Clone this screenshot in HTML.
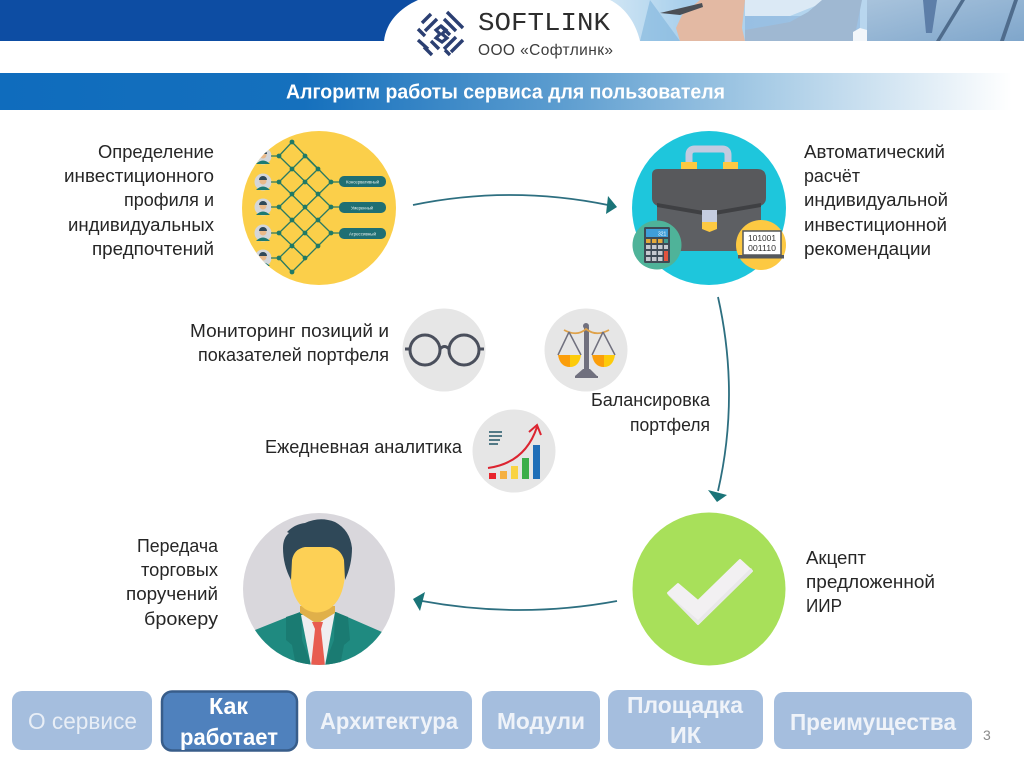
<!DOCTYPE html>
<html lang="ru">
<head>
<meta charset="utf-8">
<title>Алгоритм работы сервиса для пользователя</title>
<style>
html,body{margin:0;padding:0;background:#fff;width:1024px;height:767px;overflow:hidden}
svg{display:block}
text{font-family:"Liberation Sans","Noto Sans CJK SC",sans-serif}
.t{font-size:18.5px;fill:#262626}
.b{font-size:23px;font-weight:bold;fill:#eff3f9}
</style>
</head>
<body>
<svg width="1024" height="767" viewBox="0 0 1024 767" xmlns="http://www.w3.org/2000/svg">
<defs>
<linearGradient id="bar" x1="0" x2="1" y1="0" y2="0">
<stop offset="0" stop-color="#0f6cbd"/><stop offset=".3" stop-color="#1570bd"/>
<stop offset=".55" stop-color="#5b9ccf"/><stop offset=".75" stop-color="#a5cae5"/>
<stop offset="1" stop-color="#ffffff"/>
</linearGradient>
<linearGradient id="photo" x1="0" x2="1" y1="0" y2="0">
<stop offset="0" stop-color="#d5e8f5"/><stop offset=".2" stop-color="#a9d0ec"/><stop offset="1" stop-color="#c5dcf0"/>
</linearGradient>
<linearGradient id="suit" x1="0" x2="1" y1="0" y2="1">
<stop offset="0" stop-color="#a8c3dc"/><stop offset="1" stop-color="#7fa6cb"/>
</linearGradient>
<clipPath id="c1"><circle cx="319" cy="208" r="77"/></clipPath>
<clipPath id="c3"><circle cx="319" cy="589" r="76"/></clipPath>
<clipPath id="hdr"><rect x="0" y="0" width="1024" height="41"/></clipPath>
</defs>

<!-- header -->
<rect x="0" y="0" width="1024" height="41" fill="#0d4da3"/>
<g clip-path="url(#hdr)">
<rect x="600" y="0" width="424" height="41" fill="url(#photo)"/>
<path d="M650 0L680 41H640Z" fill="#7fb4dc" opacity=".6"/>
<path d="M745 0H830L790 16H745Z" fill="#dbe9f5"/>
<path d="M745 16H800L860 0V41H745Z" fill="#6f9fd0" opacity=".35"/>
<path d="M745 30L790 22L808 12L822 0H862L856 30L853 41H745Z" fill="#9fb8d2"/>
<path d="M700 0H745L742 28L745 41H680L676 28L682 15Z" fill="#e3b9a3"/>
<path d="M660 13L702 3L703 7L680 15Z" fill="#4b4f55"/>
<path d="M853 32L860 28L867 30V41H853Z" fill="#f2f6fa"/>
<path d="M867 0H1024V41H867Z" fill="url(#suit)"/>
<path d="M923 0H937L932 33L926 33Z" fill="#5d7ea8"/>
<path d="M965 0L940 41H936L961 0Z" fill="#4f6c8c"/>
<path d="M1018 0L1004 41H1000L1014 0Z" fill="#4f6c8c"/>
</g>
<path d="M384 41C386 22 400 8 418 0H610C626 8 636 24 640 41V60H384Z" fill="#fff"/>

<!-- logo -->
<g stroke="#2b3f72" stroke-width="3.4" fill="none">
<path d="M431 14L422 23M437 19L425 31M418 29L425 36M418 40L428 49M424 47L432 55M431 41L439 49"/>
<path d="M447 12L463 28M444 19L456 31M441 26L450 35M463 40L451 52M456 37L444 49M450 55L445 50"/>
<path d="M436 30L441 26L446 30L442 34L447 38L442 42L436 38L440 34Z" stroke-width="3.2"/>
</g>
<text x="478" y="30" font-size="26" textLength="132" lengthAdjust="spacingAndGlyphs" fill="#2d2d2d" style="font-family:'Liberation Mono',monospace">SOFTLINK</text>
<text x="478" y="55" font-size="15.5" textLength="135" lengthAdjust="spacing" fill="#3c3c3c">ООО «Софтлинк»</text>

<!-- title bar -->
<rect x="0" y="73" width="1012" height="37" fill="url(#bar)"/>
<text x="286" y="98.500" font-size="20" font-weight="bold" fill="#fff" textLength="439" lengthAdjust="spacingAndGlyphs">Алгоритм работы сервиса для пользователя</text>

<!-- circle 1: neural net -->
<circle cx="319" cy="208" r="77" fill="#fbcf4a"/>
<g clip-path="url(#c1)">
<g fill="#d3d6da">
<circle cx="263" cy="156" r="8.500"/><circle cx="263" cy="182" r="8.500"/><circle cx="263" cy="207" r="8.500"/><circle cx="263" cy="233" r="8.500"/><circle cx="263" cy="258" r="8.500"/>
</g>
<g fill="#e9b98a">
<circle cx="263" cy="155" r="3.500"/><circle cx="263" cy="181" r="3.500"/><circle cx="263" cy="206" r="3.500"/><circle cx="263" cy="232" r="3.500"/><circle cx="263" cy="257" r="3.500"/>
</g>
<g fill="#2f4858">
<path d="M259 154a4 4 0 0 1 8 0z"/><path d="M259 180a4 4 0 0 1 8 0z"/><path d="M259 205a4 4 0 0 1 8 0z"/><path d="M259 231a4 4 0 0 1 8 0z"/><path d="M259 256a4 4 0 0 1 8 0z"/>
</g>
<g fill="#1d7a72">
<path d="M256 164q7-7 14 0z"/><path d="M256 190q7-7 14 0z"/><path d="M256 215q7-7 14 0z"/><path d="M256 241q7-7 14 0z"/><path d="M256 266q7-7 14 0z"/>
</g>
<g stroke="#2a7a62" stroke-width="1.300" fill="none">
<path d="M271 156H279M271 182H279M271 207H279M271 233H279M271 258H279"/>
<path d="M331 182H340M331 207H340M331 233H340"/>
<path d="M292 142L331 182M279 156L331 207M279 182L331 233M279 207L305 233M279 233L305 258M279 258L292 272"/>
<path d="M292 272L331 233M279 258L331 207M279 233L331 182M279 207L318 169M279 182L305 156M279 156L292 142"/>
<path d="M305 233L318 246M305 156L318 169"/>
</g>
<g fill="#1f7a66">
<circle cx="279" cy="156" r="2.400"/><circle cx="279" cy="182" r="2.400"/><circle cx="279" cy="207" r="2.400"/><circle cx="279" cy="233" r="2.400"/><circle cx="279" cy="258" r="2.400"/>
<circle cx="292" cy="142" r="2.400"/><circle cx="292" cy="169" r="2.400"/><circle cx="292" cy="194" r="2.400"/><circle cx="292" cy="220" r="2.400"/><circle cx="292" cy="246" r="2.400"/><circle cx="292" cy="272" r="2.400"/>
<circle cx="305" cy="156" r="2.400"/><circle cx="305" cy="182" r="2.400"/><circle cx="305" cy="207" r="2.400"/><circle cx="305" cy="233" r="2.400"/><circle cx="305" cy="258" r="2.400"/>
<circle cx="318" cy="169" r="2.400"/><circle cx="318" cy="194" r="2.400"/><circle cx="318" cy="220" r="2.400"/><circle cx="318" cy="246" r="2.400"/>
<circle cx="331" cy="182" r="2.400"/><circle cx="331" cy="207" r="2.400"/><circle cx="331" cy="233" r="2.400"/>
</g>
</g>
<g fill="#1f6f73">
<rect x="339" y="176" width="47" height="11" rx="5"/>
<rect x="339" y="202" width="47" height="11" rx="5"/>
<rect x="339" y="228" width="47" height="11" rx="5"/>
</g>
<g font-size="4.500" fill="#e9f3f2">
<text x="346" y="183.500" textLength="33" lengthAdjust="spacingAndGlyphs">Консервативный</text>
<text x="351" y="209.500" textLength="22" lengthAdjust="spacingAndGlyphs">Умеренный</text>
<text x="349" y="235.500" textLength="27" lengthAdjust="spacingAndGlyphs">Агрессивный</text>
</g>

<!-- circle 2: briefcase -->
<circle cx="709" cy="208" r="77" fill="#1ec6dc"/>
<path d="M689 163V155Q689 149 695 149H722Q728 149 728 155V163" fill="none" stroke="#c3cbe0" stroke-width="7"/>
<rect x="681" y="162" width="16" height="8" fill="#fdc942"/>
<rect x="723" y="162" width="15" height="8" fill="#fdc942"/>
<rect x="657" y="196" width="104" height="55" fill="#5d5f63"/>
<path d="M658 169H757Q766 169 766 178V198Q766 204 760 206L709 214L658 206Q652 204 652 198V175Q652 169 658 169Z" fill="#58595c"/>
<path d="M657 203L709 212L761 203V207L709 216L657 207Z" fill="#3f4043"/>
<rect x="702" y="210" width="15" height="12" fill="#c5cde0"/>
<path d="M702 222H717V229L709.500 232L702 229Z" fill="#fdc942"/>
<circle cx="657" cy="245" r="24.500" fill="#4fb399"/>
<rect x="644" y="227" width="26" height="36" rx="1.500" fill="#3e4a55"/>
<rect x="646" y="229" width="22" height="8" fill="#3f9ed9"/>
<text x="658" y="235.500" font-size="5" fill="#fff">321</text>
<g fill="#e3a93a"><rect x="646" y="239" width="4.500" height="4"/><rect x="652" y="239" width="4.500" height="4"/><rect x="658" y="239" width="4.500" height="4"/></g>
<rect x="664" y="239" width="4" height="4" fill="#3f9e92"/>
<g fill="#c5c9cf"><rect x="646" y="245" width="4.500" height="4"/><rect x="652" y="245" width="4.500" height="4"/><rect x="658" y="245" width="4.500" height="4"/><rect x="664" y="245" width="4" height="4"/><rect x="646" y="251" width="4.500" height="4"/><rect x="652" y="251" width="4.500" height="4"/><rect x="658" y="251" width="4.500" height="4"/><rect x="646" y="257" width="4.500" height="4"/><rect x="652" y="257" width="4.500" height="4"/><rect x="658" y="257" width="4.500" height="4"/></g>
<rect x="664" y="251" width="4" height="10" fill="#e2533f"/>
<circle cx="761" cy="245" r="25" fill="#fdc942"/>
<rect x="743" y="231" width="38" height="24" fill="#fff" stroke="#55585c" stroke-width="1.500"/>
<rect x="738" y="255" width="46" height="3.500" fill="#55585c"/>
<text x="748" y="241" font-size="8.500" fill="#333" textLength="28" lengthAdjust="spacingAndGlyphs">101001</text>
<text x="748" y="251" font-size="8.500" fill="#333" textLength="28" lengthAdjust="spacingAndGlyphs">001110</text>

<!-- small circles -->
<circle cx="444" cy="350" r="41.500" fill="#e6e6e6"/>
<circle cx="586" cy="350" r="41.500" fill="#e6e6e6"/>
<circle cx="514" cy="451" r="41.500" fill="#e6e6e6"/>

<!-- glasses -->
<g fill="none" stroke="#4a4f5c" stroke-width="3">
<circle cx="425" cy="350" r="15"/><circle cx="464" cy="350" r="15"/>
<path d="M440 349Q444.500 344 449 349M410 349H405M479 349H484"/>
</g>

<!-- scales -->
<rect x="584" y="327" width="5" height="48" fill="#70707e"/>
<circle cx="586" cy="326" r="3" fill="#70707e"/>
<path d="M564 330Q577 337 586 329Q596 337 609 330" fill="none" stroke="#dfa24a" stroke-width="1.800"/>
<path d="M575 376H597L590 369H583Z" fill="#70707e"/>
<rect x="575" y="376" width="23" height="2" fill="#70707e"/>
<g fill="none" stroke="#70707e" stroke-width="1.500"><path d="M569 332L558 355M569 332L581 355M603 332L592 355M603 332L615 355"/></g>
<path d="M558 355H570V367Q560 367 558 355Z" fill="#fb9e0b"/><path d="M570 355H581Q579 367 570 367Z" fill="#fdcb0a"/>
<path d="M592 355H604V367Q594 367 592 355Z" fill="#fb9e0b"/><path d="M604 355H615Q613 367 604 367Z" fill="#fdcb0a"/>

<!-- chart -->
<g stroke="#3d6a78" stroke-width="1.800"><path d="M489 432H502M489 436H502M489 440H500M489 444H498"/></g>
<rect x="489" y="473" width="7" height="6" fill="#e8242c"/>
<rect x="500" y="471" width="7" height="8" fill="#f5b041"/>
<rect x="511" y="466" width="7" height="13" fill="#f9d342"/>
<rect x="522" y="458" width="7" height="21" fill="#3cae4a"/>
<rect x="533" y="445" width="7" height="34" fill="#1f6fb8"/>
<path d="M488 468Q525 463 537 427" fill="none" stroke="#dc2430" stroke-width="2"/>
<path d="M529 432L537 425L541 435" fill="none" stroke="#dc2430" stroke-width="2"/>

<!-- person -->
<circle cx="319" cy="589" r="76" fill="#d9d7dc"/>
<g clip-path="url(#c3)">
<path d="M255 630L300 612H336L382 632V670H255Z" fill="#1f8a80"/>
<path d="M286 617L301 612L302 640L312 666H296L292 645L286 640Z" fill="#1a7b72"/>
<path d="M348 617L335 612L334 640L324 666H340L344 645L350 640Z" fill="#1a7b72"/>
<path d="M301 615L335 612L325 666H311Z" fill="#efeef0"/>
<path d="M300 606H335V613L317 624L300 613Z" fill="#e0b04a"/>
<path d="M312 622H323L321 629L325 666H311L315 629Z" fill="#e85c50"/>
</g>
<path d="M290 575Q292 600 305 609Q317 616 329 609Q343 600 345 575V560Q343 548 330 547H305Q292 548 290 560Z" fill="#fdd055"/>
<path d="M291 580Q283 565 283 548Q283 538 289 533L287 532Q295 524 305 523Q320 516 335 522Q350 530 352 548Q352 565 345 580L344 560Q341 549 330 547H305Q294 549 292 560Z" fill="#2f4858"/>

<!-- check -->
<circle cx="709" cy="589" r="76.500" fill="#a8e05a"/>
<path d="M668 593L678 584L698 601L740 560L752 571L698 624Z" fill="#f2f0f2" stroke="#f2f0f2" stroke-width="2" stroke-linejoin="round"/>
<path d="M698 625L753 571L751 568L698 620L670 596L667 594Z" fill="#e9e8ea"/>

<!-- arrows -->
<g fill="none" stroke="#2d6f80" stroke-width="1.800">
<path d="M413 205Q510 185 608 205"/>
<path d="M718 297Q740 395 718 491"/>
<path d="M617 601Q520 619 422 601"/>
</g>
<g fill="#1a7478">
<path d="M608 196L617 207L606 214Z"/>
<path d="M708 490L727 495L717 502Z"/>
<path d="M425 592L413 599L420 611Z"/>
</g>

<!-- labels -->
<g class="t" fill="#262626">
<text class="t" x="98" y="158" textLength="116" lengthAdjust="spacingAndGlyphs">Определение</text>
<text class="t" x="64" y="182" textLength="150" lengthAdjust="spacingAndGlyphs">инвестиционного</text>
<text class="t" x="124" y="206" textLength="90" lengthAdjust="spacingAndGlyphs">профиля и</text>
<text class="t" x="68" y="231" textLength="146" lengthAdjust="spacingAndGlyphs">индивидуальных</text>
<text class="t" x="92" y="255" textLength="122" lengthAdjust="spacingAndGlyphs">предпочтений</text>

<text class="t" x="804" y="158" textLength="141" lengthAdjust="spacingAndGlyphs">Автоматический</text>
<text class="t" x="804" y="182" textLength="56" lengthAdjust="spacingAndGlyphs">расчёт</text>
<text class="t" x="804" y="206" textLength="144" lengthAdjust="spacingAndGlyphs">индивидуальной</text>
<text class="t" x="804" y="231" textLength="143" lengthAdjust="spacingAndGlyphs">инвестиционной</text>
<text class="t" x="804" y="255" textLength="127" lengthAdjust="spacingAndGlyphs">рекомендации</text>

<text class="t" x="190" y="337" textLength="199" lengthAdjust="spacingAndGlyphs">Мониторинг позиций и</text>
<text class="t" x="198" y="361" textLength="191" lengthAdjust="spacingAndGlyphs">показателей портфеля</text>

<text class="t" x="591" y="406" textLength="119" lengthAdjust="spacingAndGlyphs">Балансировка</text>
<text class="t" x="630" y="431" textLength="80" lengthAdjust="spacingAndGlyphs">портфеля</text>

<text class="t" x="265" y="453" textLength="197" lengthAdjust="spacingAndGlyphs">Ежедневная аналитика</text>

<text class="t" x="137" y="552" textLength="81" lengthAdjust="spacingAndGlyphs">Передача</text>
<text class="t" x="141" y="576" textLength="77" lengthAdjust="spacingAndGlyphs">торговых</text>
<text class="t" x="126" y="600" textLength="92" lengthAdjust="spacingAndGlyphs">поручений</text>
<text class="t" x="144" y="625" textLength="74" lengthAdjust="spacingAndGlyphs">брокеру</text>

<text class="t" x="806" y="564" textLength="60" lengthAdjust="spacingAndGlyphs">Акцепт</text>
<text class="t" x="806" y="588" textLength="129" lengthAdjust="spacingAndGlyphs">предложенной</text>
<text class="t" x="806" y="612" textLength="36" lengthAdjust="spacingAndGlyphs">ИИР</text>
</g>

<!-- tabs -->
<rect x="12" y="691" width="140" height="59" rx="10" fill="#a5bede"/>
<rect x="162" y="691.500" width="135" height="59" rx="10" fill="#4f81bd" stroke="#385d8a" stroke-width="2.500"/>
<rect x="306" y="691" width="166" height="58" rx="10" fill="#a5bede"/>
<rect x="482" y="691" width="118" height="58" rx="10" fill="#a5bede"/>
<rect x="608" y="690" width="155" height="59" rx="10" fill="#a5bede"/>
<rect x="774" y="692" width="198" height="57" rx="10" fill="#a5bede"/>

<text x="28" y="729" font-size="23" fill="#e8eef6" textLength="109" lengthAdjust="spacingAndGlyphs">О сервисе</text>
<text class="b" x="209" y="714" fill="#fff" style="fill:#fff" textLength="39" lengthAdjust="spacingAndGlyphs">Как</text>
<text class="b" x="180" y="745" fill="#fff" style="fill:#fff" textLength="98" lengthAdjust="spacingAndGlyphs">работает</text>
<text class="b" x="320" y="729" textLength="138" lengthAdjust="spacingAndGlyphs">Архитектура</text>
<text class="b" x="497" y="729" textLength="88" lengthAdjust="spacingAndGlyphs">Модули</text>
<text class="b" x="627" y="713" textLength="116" lengthAdjust="spacingAndGlyphs">Площадка</text>
<text class="b" x="670" y="743" textLength="31" lengthAdjust="spacingAndGlyphs">ИК</text>
<text class="b" x="790" y="730" textLength="166" lengthAdjust="spacingAndGlyphs">Преимущества</text>
<text x="983" y="740" font-size="14" fill="#8a8a8a">3</text>
</svg>
</body>
</html>
